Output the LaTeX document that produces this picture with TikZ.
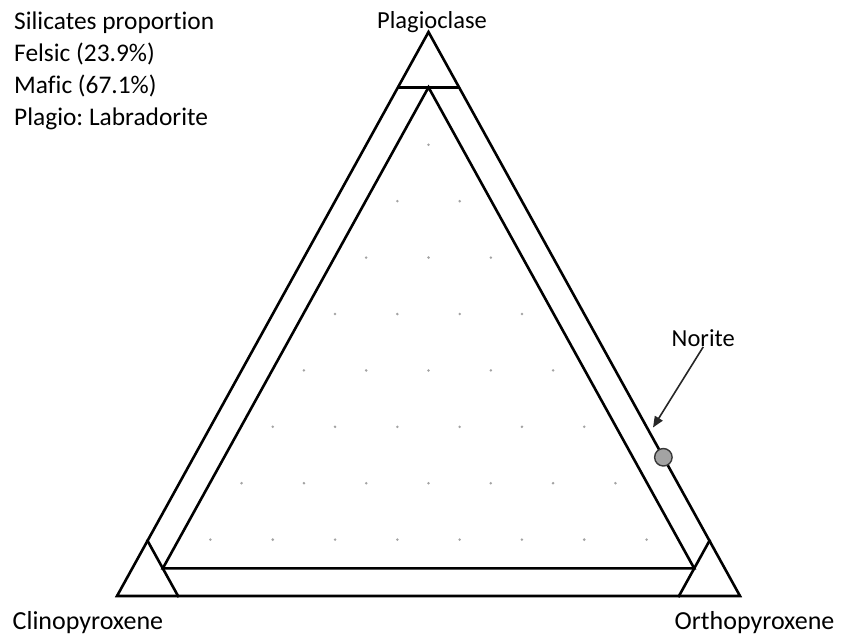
\documentclass[tikz,border=0pt]{standalone}
\usepackage{fontspec}
\setmainfont[Ligatures={NoCommon}]{Carlito}
\usetikzlibrary{calc,arrows.meta}
\frenchspacing
\begin{document}
\begin{tikzpicture}[x=1pt,y=-1pt,
  edge/.style={line width=2.6pt, line join=miter, line cap=rect},
  lbl/.style={inner sep=0pt, font=\fontsize{24.5}{29}\selectfont, text=black},
  big/.style={font=\fontsize{26}{31}\selectfont},
  leg/.style={font=\fontsize{25.4}{30}\selectfont},
  gdot/.style={fill=black!36},
  sample/.style={circle, draw=black!78, line width=1.4pt, fill=black!36, minimum size=17.5pt, inner sep=0pt},
  pointer/.style={draw=black!85, line width=1.6pt, -{Triangle[length=11pt,width=9pt]}},
]
\useasboundingbox (0,0) rectangle (842,635);
\def\cutf{0.098}

% outer triangle
\coordinate (A) at (428.5,32);
\coordinate (B) at (117,596);
\coordinate (C) at (740,596);
\draw[edge] (A) -- (B) -- (C) -- cycle;

% corner cuts
\coordinate (ab) at ($(A)!\cutf!(B)$);
\coordinate (ac) at ($(A)!\cutf!(C)$);
\coordinate (ba) at ($(B)!\cutf!(A)$);
\coordinate (bc) at ($(B)!\cutf!(C)$);
\coordinate (ca) at ($(C)!\cutf!(A)$);
\coordinate (cb) at ($(C)!\cutf!(B)$);
\draw[edge] (ab) -- (ac);
\draw[edge] (ba) -- (bc);
\draw[edge] (ca) -- (cb);

% inner triangle through the midpoints of the cuts
\coordinate (iA) at ($(ab)!0.5!(ac)$);
\coordinate (iB) at ($(ba)!0.5!(bc)$);
\coordinate (iC) at ($(ca)!0.5!(cb)$);
\draw[edge] (iA) -- (iB) -- (iC) -- cycle;

% ternary grid points (10 divisions, interior only)
\foreach \k in {2,...,9}{
  \pgfmathtruncatemacro\m{\k-1}
  \foreach \j in {1,...,\m}{
    \fill[gdot] ({428.5+62.3*(\j-\k/2)},{32+56.4*\k}) circle (1.4);
  }
}

% sample point
\node[sample] (norite) at ($(A)!0.754!(C)$) {};
\node[lbl, anchor=base west] (noritelbl) at (671.5,346.5) {Norite};
\coordinate (noritetip) at (653,427.5);
\draw[pointer] (noritelbl.south) -- (noritetip);

% vertex labels
\node[lbl, anchor=base] (plag) at (432,28) {Plagioclase};
\node[lbl, big, anchor=base west] (cpx) at (12.5,629.5) {Clinopyroxene};
\node[lbl, big, anchor=base west] (opx) at (674.5,629.5) {Orthopyroxene};

% legend
\node[lbl, leg, anchor=base west] (leg1) at (14,29) {Silicates proportion};
\node[lbl, leg, anchor=base west] (leg2) at (14,61) {Felsic (23.9\%)};
\node[lbl, leg, anchor=base west] (leg3) at (14,93) {Mafic (67.1\%)};
\node[lbl, leg, anchor=base west] (leg4) at (14,125) {Plagio: Labradorite};
\end{tikzpicture}
\end{document}
